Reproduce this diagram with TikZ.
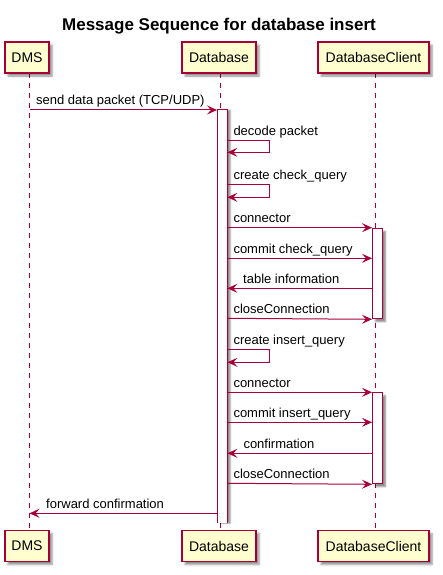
\documentclass[tikz,border=0pt]{standalone}
\usepackage{fontspec}
\setmainfont{Liberation Sans}
\usetikzlibrary{arrows.meta,shadows.blur}
\definecolor{pred}{RGB}{168,0,54}
\definecolor{pfill}{RGB}{254,254,206}
\begin{document}
\begin{tikzpicture}[x=1pt,y=-1pt,
  part/.style={draw=pred, fill=pfill, line width=1.5pt, minimum height=31pt, inner sep=0pt,
    font=\fontsize{14}{16}\selectfont,
    blur shadow={shadow xshift=3pt, shadow yshift=-3pt, shadow blur radius=2pt, shadow opacity=45}},
  actbar/.style={draw=pred, fill=white, line width=1pt, minimum width=10pt, inner sep=0pt, anchor=north west,
    blur shadow={shadow xshift=3pt, shadow yshift=-3pt, shadow blur radius=1.5pt, shadow opacity=45}},
  openbar/.style={fill=white, draw=none, minimum width=10pt, inner sep=0pt, anchor=north west,
    blur shadow={shadow xshift=3pt, shadow yshift=0pt, shadow blur radius=1.5pt, shadow opacity=45}},
  life/.style={draw=pred, line width=1pt, dash pattern=on 5pt off 5pt},
  msg/.style={draw=pred, line width=1pt, -{Stealth[length=10pt,width=9pt,inset=4pt]}},
  lbl/.style={anchor=base west, inner sep=0pt, font=\fontsize{13}{15}\selectfont},
]
\useasboundingbox (0,0) rectangle (442,575);
% title
\node[anchor=base, inner sep=0pt, font=\fontsize{17}{20}\selectfont\bfseries] (title) at (219,30.7) {Message Sequence for database insert};
% lifelines first
\coordinate (xD) at (29.5,0);
\coordinate (xB) at (220,0);
\coordinate (xC) at (375.5,0);
\draw[life] (xD |- 0,73) -- (xD |- 0,530);
\draw[life] (xB |- 0,73) -- (xB |- 0,530);
\draw[life] (xC |- 0,73) -- (xC |- 0,530);
% participants
\node[part, minimum width=44pt] (dmsT) at (27,57.5) {DMS};
\node[part, minimum width=74pt] (dbT) at (219,57.5) {Database};
\node[part, minimum width=111pt] (dcT) at (373.5,57.5) {DatabaseClient};
\node[part, minimum width=44pt] (dmsB) at (27,546) {DMS};
\node[part, minimum width=74pt] (dbB) at (219,546) {Database};
\node[part, minimum width=111pt] (dcB) at (373.5,546) {DatabaseClient};
% activation bars
\node[openbar, minimum height=413pt] (aDB) at (217,110) {};
\draw[draw=pred, line width=1pt] (aDB.south west) -- (aDB.north west) -- (aDB.north east) -- (aDB.south east);
\node[actbar, minimum height=90.6pt] (aC1) at (372,227.7) {};
\node[actbar, minimum height=91pt] (aC2) at (372,392.3) {};
% message y levels
\coordinate (y1) at (0,110);
\coordinate (y2) at (0,140.7);
\coordinate (y2b) at (0,152.3);
\coordinate (y3) at (0,184.7);
\coordinate (y3b) at (0,197.3);
\coordinate (y4) at (0,227.7);
\coordinate (y5) at (0,258.3);
\coordinate (y6) at (0,288.3);
\coordinate (y7) at (0,318.3);
\coordinate (y8) at (0,349.3);
\coordinate (y8b) at (0,362.3);
\coordinate (y9) at (0,392.3);
\coordinate (y10) at (0,422.3);
\coordinate (y11) at (0,453.3);
\coordinate (y12) at (0,483.3);
\coordinate (y13) at (0,513.3);
% messages
\draw[msg] (xD |- y1) -- (aDB.north west);
\node[lbl] at (36,105) {send data packet (TCP/UDP)};
\draw[msg] (aDB.east |- y2) -- ++(41.6,0) -- ++(0,11.6) -- (aDB.east |- y2b);
\node[lbl] at (233.3,135.7) {decode packet};
\draw[msg] (aDB.east |- y3) -- ++(41.6,0) -- ++(0,12.6) -- (aDB.east |- y3b);
\node[lbl] at (233.3,179.7) {create check\_query};
\draw[msg] (aDB.east |- y4) -- (aC1.north west);
\node[lbl] at (233.3,222.7) {connector};
\draw[msg] (aDB.east |- y5) -- (aC1.west |- y5);
\node[lbl] at (233.3,253.3) {commit check\_query};
\draw[msg] (aC1.west |- y6) -- (aDB.east |- y6);
\node[lbl] at (243,283.3) {table information};
\draw[msg] (aDB.east |- y7) -- (aC1.south west);
\node[lbl] at (233.3,313.3) {closeConnection};
\draw[msg] (aDB.east |- y8) -- ++(41.6,0) -- ++(0,13) -- (aDB.east |- y8b);
\node[lbl] at (233.3,344.3) {create insert\_query};
\draw[msg] (aDB.east |- y9) -- (aC2.north west);
\node[lbl] at (233.3,387.3) {connector};
\draw[msg] (aDB.east |- y10) -- (aC2.west |- y10);
\node[lbl] at (233.3,417.3) {commit insert\_query};
\draw[msg] (aC2.west |- y11) -- (aDB.east |- y11);
\node[lbl] at (243.3,448.3) {confirmation};
\draw[msg] (aDB.east |- y12) -- (aC2.south west);
\node[lbl] at (233.3,478.3) {closeConnection};
\draw[msg] (aDB.west |- y13) -- (xD |- y13);
\node[lbl] at (46,508.3) {forward confirmation};
\end{tikzpicture}
\end{document}
